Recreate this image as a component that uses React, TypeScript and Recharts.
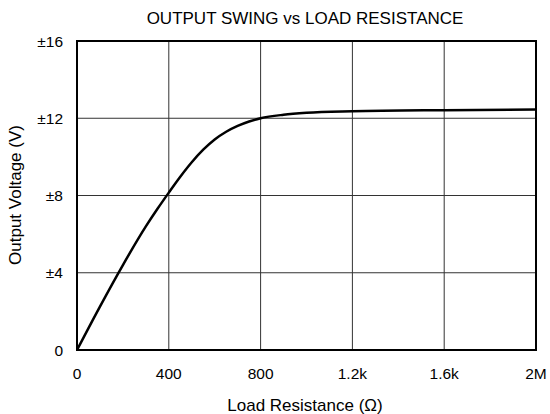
import React from 'react';
import { LineChart, Line, XAxis, YAxis, CartesianGrid, ReferenceArea } from 'recharts';

const resistance = [0, 100, 200, 300, 350, 400, 450, 500, 550, 600, 650, 700, 750, 800, 900, 1000, 1200, 1600, 2000];
const voltage = [0, 2.25, 4.4, 6.4, 7.3, 8.15, 8.97, 9.72, 10.37, 10.9, 11.3, 11.6, 11.83, 12.0, 12.18, 12.28, 12.36, 12.42, 12.45];
const xTicks = [0, 400, 800, 1200, 1600, 2000];
const xTickLabels = ['0', '400', '800', '1.2k', '1.6k', '2M'];
const yTicks = [0, 4, 8, 12, 16];
const yTickLabels = ['0', '±4', '±8', '±12', '±16'];

const data = resistance.map((r, i) => ({ r, v: voltage[i] }));
const FONT = '"Liberation Sans", Arial, sans-serif';

export default function App() {
  return (
    <div style={{ position: 'absolute', left: 0, top: 0, width: 550, height: 414, background: '#fff' }}>
      <LineChart width={550} height={414} data={data} margin={{ top: 41, right: 14, bottom: 0, left: 0 }}>
        <CartesianGrid stroke="#333" strokeWidth={1} />
        <XAxis
          dataKey="r"
          type="number"
          domain={[0, 2000]}
          ticks={xTicks}
          tickFormatter={(v: number) => xTickLabels[xTicks.indexOf(v)]}
          tickLine={false}
          axisLine={false}
          tickSize={0}
          tickMargin={18}
          height={64}
          tick={{ fill: '#000', fontSize: 15.5, fontFamily: FONT }}
          interval={0}
        />
        <YAxis
          type="number"
          domain={[0, 16]}
          ticks={yTicks}
          tickFormatter={(v: number) => yTickLabels[yTicks.indexOf(v)]}
          tickLine={false}
          axisLine={false}
          tickSize={0}
          tickMargin={14}
          width={77}
          tick={{ fill: '#000', fontSize: 15.5, fontFamily: FONT }}
          interval={0}
        />
        <ReferenceArea x1={0} x2={2000} y1={0} y2={16} fill="none" stroke="#000" strokeWidth={2} ifOverflow="visible" />
        <Line type="monotone" dataKey="v" stroke="#000" strokeWidth={2.5} dot={false} isAnimationActive={false} />
      </LineChart>
      <svg width={550} height={414} style={{ position: 'absolute', left: 0, top: 0, pointerEvents: 'none' }}>
        <text x={305} y={18} textAnchor="middle" dominantBaseline="central" fontSize={17} fontFamily={FONT} fill="#000">
          OUTPUT SWING vs LOAD RESISTANCE
        </text>
        <text x={305} y={405} textAnchor="middle" dominantBaseline="central" fontSize={17} fontFamily={FONT} fill="#000">
          Load Resistance (Ω)
        </text>
        <text x={15} y={195} textAnchor="middle" dominantBaseline="central" fontSize={17} fontFamily={FONT} fill="#000" transform="rotate(-90 15 195)">
          Output Voltage (V)
        </text>
      </svg>
    </div>
  );
}
